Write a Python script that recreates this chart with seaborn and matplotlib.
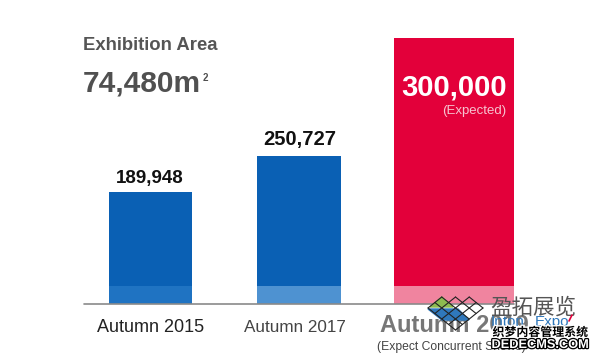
import matplotlib
matplotlib.use("Agg")
import matplotlib.pyplot as plt
import matplotlib.patheffects as pe
import pandas as pd
import seaborn as sns

# values as printed on the chart
categories = ["Autumn 2015", "Autumn 2017", "Autumn 2019"]
visitors = [189948, 250727, 300000]
value_labels = ["189,948", "250,727", "300,000"]
# the third bar is drawn far taller than its number, so heights are kept apart
drawn_heights = [189948, 250727, 451000]
lower_band = [30500, 30500, 30500]

bar_colors = ["#0A60B4", "#0A60B4", "#E3003A"]
band_colors = ["#1F73C2", "#4E92D1", "#F0849F"]

sns.set_theme(style="white")
plt.rcParams["font.family"] = ["Liberation Sans", "Noto Sans CJK SC", "DejaVu Sans"]

df = pd.DataFrame({"category": categories, "height": drawn_heights, "band": lower_band})

fig = plt.figure(figsize=(6, 3.6), dpi=100)
# axes: baseline at 304px from top, top of tallest bar at 38px
ax = fig.add_axes([0, 56 / 360, 1, 266 / 360])
sns.barplot(data=df, x="category", y="height", hue="category", palette=bar_colors,
            legend=False, saturation=1, linewidth=0, ax=ax)
sns.barplot(data=df, x="category", y="band", hue="category", palette=band_colors,
            legend=False, saturation=1, linewidth=0, ax=ax)

# bar widths are uneven in the original
unit = 148.5
ax.set_xlim(-150.5 / unit, (600 - 150.5) / unit)
ax.set_ylim(0, 451000)
widths = [83 / unit, 84 / unit, 120 / unit]
centers = [0, 1, (454 - 150.5) / unit]
bars = [p for p in ax.patches if p.get_height() > 0]
for i, p in enumerate(bars):
    k = i % 3
    p.set_width(widths[k])
    p.set_x(centers[k] - widths[k] / 2)
ax.axis("off")
ax.plot([(84 - 150.5) / unit, (514 - 150.5) / unit], [0, 0], color="#8A8A8A", lw=1.2,
        clip_on=False, zorder=5)

# overlay in pixel coordinates for the labels
ov = fig.add_axes([0, 0, 1, 1], facecolor="none")
ov.set_xlim(0, 600)
ov.set_ylim(360, 0)
ov.axis("off")

ov.text(83, 45, "Exhibition Area", fontsize=13.3, fontweight="bold", color="#555555", va="center")
ov.text(83, 84, "74,480m", fontsize=21.5, fontweight="bold", color="#505050", va="center")
ov.text(203, 78, "2", fontsize=7, fontweight="bold", color="#505050", va="center")

ov.text(150, 178, value_labels[0], fontsize=13.5, fontweight="bold", color="#111111", ha="center", va="center")
ov.text(300, 139, value_labels[1], fontsize=14.5, fontweight="bold", color="#111111", ha="center", va="center")
ov.text(454, 88, value_labels[2], fontsize=21, fontweight="bold", color="white", ha="center", va="center")
ov.text(474, 111, "(Expected)", fontsize=9.5, color="#F6C4D0", ha="center", va="center")

ov.text(151, 327, categories[0], fontsize=13, color="#222222", ha="center", va="center")
ov.text(295, 327, categories[1], fontsize=12.3, color="#444444", ha="center", va="center")
ov.text(380, 326, categories[2], fontsize=17, fontweight="bold", color="#777777", va="center")
ov.text(377, 347, "(Expect Concurrent Shows)", fontsize=8.7, color="#444444", va="center")

# watermark logo: rhombus lattice
ov.fill([430, 441.75, 453], [307, 297, 307], color="#8DBB50", zorder=6)
ov.fill([428, 458, 469, 442], [309, 309, 320, 320], color="#2F78BC", zorder=6)
logo_lines = [
    ((428, 308), (441.75, 297)), ((434.9, 313.5), (455.5, 297)), ((441.75, 319), (469.25, 297)),
    ((448.6, 324.5), (476.1, 302.5)), ((455.5, 330), (483, 308)),
    ((428, 308), (455.5, 330)), ((434.9, 302.5), (462.4, 324.5)), ((441.75, 297), (469.25, 319)),
    ((455.5, 297), (476.1, 313.5)), ((469.25, 297), (483, 308)),
]
for a, b in logo_lines:
    ov.plot([a[0], b[0]], [a[1], b[1]], color="#222222", lw=0.8, zorder=7)

ov.text(533, 308, "盈拓展览", fontsize=15.5, color="#555555", ha="center", va="center", zorder=8)
ov.text(491, 322, "Inton", fontsize=11, color="#2F78BC", va="center", zorder=8)
ov.text(535, 322, "Expo", fontsize=11, color="#2F78BC", va="center", zorder=8)
ov.plot([569, 572], [321, 315], color="#E3003A", lw=1.2, zorder=8)
ov.text(540, 333, "织梦内容管理系统", fontsize=8.6, fontweight="bold", color="black", ha="center", va="center",
        path_effects=[pe.withStroke(linewidth=2, foreground="white")], zorder=9)
ov.text(540, 345, "DEDECMS.COM", fontsize=9.2, fontweight="bold", color="white", ha="center", va="center",
        path_effects=[pe.withStroke(linewidth=1.8, foreground="black")], zorder=9)

fig.savefig("out.png", dpi=100)
